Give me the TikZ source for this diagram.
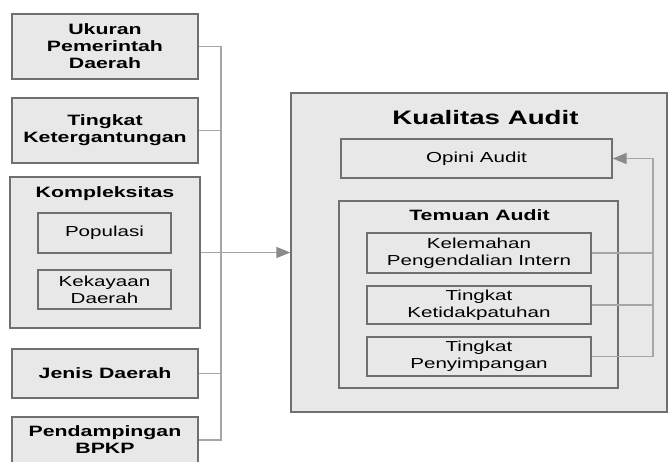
\documentclass[tikz,border=0pt]{standalone}
\usepackage{fontspec}
\setmainfont{Liberation Sans}[FakeStretch=1.42]
\usetikzlibrary{arrows.meta}
\definecolor{boxfill}{HTML}{E8E8E8}
\definecolor{boxline}{HTML}{6F6F6F}
\definecolor{connline}{HTML}{A6A6A6}
\definecolor{tipfill}{HTML}{8A8A8A}
\begin{document}
\begin{tikzpicture}[x=1pt,y=-1pt,
  box/.style={draw=boxline, line width=1.3pt, fill=boxfill, inner sep=0pt, align=center},
  bt/.style={font=\fontsize{15}{17}\selectfont\bfseries},
  rt/.style={font=\fontsize{14.5}{17}\selectfont},
  conn/.style={draw=connline, line width=1.4pt},
  tip/.style={-{Triangle[length=14pt,width=11pt,fill=tipfill,color=tipfill]}}
]
\useasboundingbox (0,0) rectangle (669,461);
\fill[white] (0,0) rectangle (669,461);
% left column
\node[box,bt,minimum width=186pt,minimum height=65pt] (uk) at (105,46.5) {Ukuran\\Pemerintah\\Daerah};
\node[box,bt,minimum width=186pt,minimum height=65pt] (tk) at (105,130.5) {Tingkat\\Ketergantungan};
\node[box,minimum width=190pt,minimum height=151pt] (komp) at (105,252.5) {};
\node[bt,anchor=base] (kompt) at (105,197) {Kompleksitas};
\node[box,rt,minimum width=133pt,minimum height=40pt] (pop) at (104.5,233) {Populasi};
\node[box,rt,minimum width=133pt,minimum height=39pt] (kek) at (104.5,289.5) {Kekayaan\\Daerah};
\node[box,bt,minimum width=186pt,minimum height=49pt] (jen) at (105,373.5) {Jenis Daerah};
\node[box,bt,minimum width=186pt,minimum height=46pt] (pend) at (105,440) {Pendampingan\\BPKP};
% right block
\node[box,minimum width=376pt,minimum height=319pt] (kual) at (479,252.5) {};
\node[anchor=base,font=\fontsize{19.5}{22}\selectfont\bfseries] (kualt) at (485.5,124) {Kualitas Audit};
\node[box,rt,minimum width=271pt,minimum height=39pt] (op) at (476.5,158.5) {Opini Audit};
\node[box,minimum width=279pt,minimum height=187pt] (tem) at (478.5,294.5) {};
\node[bt,anchor=base] (temt) at (479.5,220) {Temuan Audit};
\node[box,rt,minimum width=224pt,minimum height=40pt] (kel) at (479,253) {Kelemahan\\Pengendalian Intern};
\node[box,rt,minimum width=224pt,minimum height=38pt] (tid) at (479,305) {Tingkat\\Ketidakpatuhan};
\node[box,rt,minimum width=224pt,minimum height=39pt] (pen) at (479,356.5) {Tingkat\\Penyimpangan};
% left connectors
\coordinate (bustop) at (221,46.5);
\coordinate (busbot) at (221,440);
\draw[conn] (uk.east) -- (bustop) -- (busbot) -- (pend.east);
\draw[conn] (tk.east) -- (tk.east -| bustop);
\draw[conn] (jen.east) -- (jen.east -| bustop);
\draw[conn,tip] (komp.east) -- (kual.west);
% feedback connectors
\coordinate (fb) at (653,158.5);
\draw[conn] (kel.east) -- (kel.east -| fb);
\draw[conn] (tid.east) -- (tid.east -| fb);
\draw[conn,tip] (pen.east) -| (fb) -- (op.east);
\end{tikzpicture}
\end{document}
